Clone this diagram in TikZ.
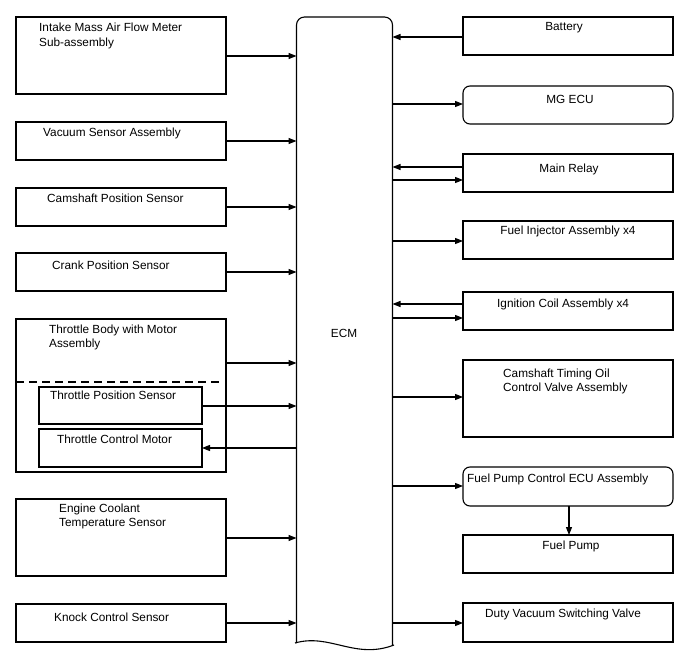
\documentclass[tikz,border=0pt]{standalone}
\usepackage{fontspec}
\setmainfont{Liberation Sans}
\usetikzlibrary{arrows.meta}
\begin{document}
\begin{tikzpicture}[x=1pt,y=-1pt,
  box/.style={draw, line width=1.1pt, minimum width=210pt, inner sep=0pt, outer sep=0pt, anchor=north west},
  ibox/.style={draw, line width=1.1pt, minimum width=163pt, inner sep=0pt, outer sep=0pt, anchor=north west},
  rbox/.style={box, rounded corners=7pt},
  lbl/.style={inner sep=0pt, font=\fontsize{11.8}{14.5}\selectfont, align=left},
  arr/.style={line width=1.1pt, -{Triangle[length=8pt,width=6pt]}}]
\useasboundingbox (0,0) rectangle (688,658);
% ECM
\draw[line width=1.1pt, rounded corners=8pt] (296.5,643) -- (296.5,17) -- (392.5,17) -- (392.5,645);
\draw[line width=1.1pt] (295,643) .. controls (330,633) and (355,660) .. (394,645);
\coordinate (ecmL) at (296.5,0);
\coordinate (ecmR) at (392.5,0);
\node[lbl] (ecm) at (344,333) {ECM};
% left boxes
\node[box, minimum height=77pt] (intake) at (16,17) {};
\node[box, minimum height=38pt] (vacuum) at (16,122) {};
\node[box, minimum height=38pt] (campos) at (16,188) {};
\node[box, minimum height=38pt] (crank) at (16,253) {};
\node[box, minimum height=153pt] (throttle) at (16,319) {};
\node[ibox, minimum height=37pt] (tps) at (39,387) {};
\node[ibox, minimum height=38pt] (tcm) at (39,429) {};
\node[box, minimum height=77pt] (coolant) at (16,499) {};
\node[box, minimum height=38pt] (knock) at (16,604) {};
\coordinate (dashL) at (16,382);
\coordinate (dashR) at (222,382);
\draw[line width=1.1pt, dash pattern=on 8pt off 5pt] (dashL) -- (dashR);
\node[lbl, anchor=west] (intaket) at (39,36) {Intake Mass Air Flow Meter\\Sub-assembly};
\node[lbl, anchor=west] (vacuumt) at (43,133) {Vacuum Sensor Assembly};
\node[lbl, anchor=west] (campost) at (47,198) {Camshaft Position Sensor};
\node[lbl, anchor=west] (crankt) at (52,265) {Crank Position Sensor};
\node[lbl, anchor=west] (throttlet) at (49,337.5) {Throttle Body with Motor\\Assembly};
\node[lbl, anchor=west] (tpst) at (50,395) {Throttle Position Sensor};
\node[lbl, anchor=west] (tcmt) at (57,439) {Throttle Control Motor};
\node[lbl, anchor=west] (coolantt) at (59,516.5) {Engine Coolant\\Temperature Sensor};
\node[lbl, anchor=west] (knockt) at (54,617) {Knock Control Sensor};
% right boxes
\node[box, minimum height=38pt] (battery) at (463,17) {};
\node[rbox, minimum height=38pt] (mgecu) at (463,86) {};
\node[box, minimum height=38pt] (relay) at (463,154) {};
\node[box, minimum height=38pt] (injector) at (463,221) {};
\node[box, minimum height=38pt] (ignition) at (463,292) {};
\node[box, minimum height=77pt] (camtiming) at (463,360) {};
\node[rbox, minimum height=39pt] (fpecu) at (463,467) {};
\node[box, minimum height=38pt] (fuelpump) at (463,535) {};
\node[box, minimum height=39pt] (duty) at (463,603) {};
\node[lbl] (batteryt) at (564,28) {Battery};
\node[lbl] (mgecut) at (570,99) {MG ECU};
\node[lbl] (relayt) at (569,169) {Main Relay};
\node[lbl] (injectort) at (568,231) {Fuel Injector Assembly x4};
\node[lbl, anchor=west] (ignitiont) at (497,304) {Ignition Coil Assembly x4};
\node[lbl, anchor=west] (camtimingt) at (503,381.5) {Camshaft Timing Oil\\Control Valve Assembly};
\node[lbl, anchor=west] (fpecut) at (467,479) {Fuel Pump Control ECU Assembly};
\node[lbl] (fuelpumpt) at (571,546) {Fuel Pump};
\node[lbl] (dutyt) at (563,614) {Duty Vacuum Switching Valve};
% left arrows
\draw[arr] (intake.east |- 0,56) -- (ecmL |- 0,56);
\draw[arr] (vacuum.east |- 0,141) -- (ecmL |- 0,141);
\draw[arr] (campos.east |- 0,207) -- (ecmL |- 0,207);
\draw[arr] (crank.east |- 0,272) -- (ecmL |- 0,272);
\draw[arr] (throttle.east |- 0,363) -- (ecmL |- 0,363);
\draw[arr] (tps.east |- 0,406) -- (ecmL |- 0,406);
\draw[arr] (ecmL |- 0,448) -- (tcm.east |- 0,448);
\draw[arr] (coolant.east |- 0,538) -- (ecmL |- 0,538);
\draw[arr] (knock.east |- 0,623) -- (ecmL |- 0,623);
% right arrows
\draw[arr] (battery.west |- 0,37) -- (ecmR |- 0,37);
\draw[arr] (ecmR |- 0,104) -- (mgecu.west |- 0,104);
\draw[arr] (relay.west |- 0,167) -- (ecmR |- 0,167);
\draw[arr] (ecmR |- 0,180) -- (relay.west |- 0,180);
\draw[arr] (ecmR |- 0,241) -- (injector.west |- 0,241);
\draw[arr] (ignition.west |- 0,304) -- (ecmR |- 0,304);
\draw[arr] (ecmR |- 0,318) -- (ignition.west |- 0,318);
\draw[arr] (ecmR |- 0,397) -- (camtiming.west |- 0,397);
\draw[arr] (ecmR |- 0,486) -- (fpecu.west |- 0,486);
\draw[arr] (fpecu.south -| 569,0) -- (fuelpump.north -| 569,0);
\draw[arr] (ecmR |- 0,623) -- (duty.west |- 0,623);
\end{tikzpicture}
\end{document}
